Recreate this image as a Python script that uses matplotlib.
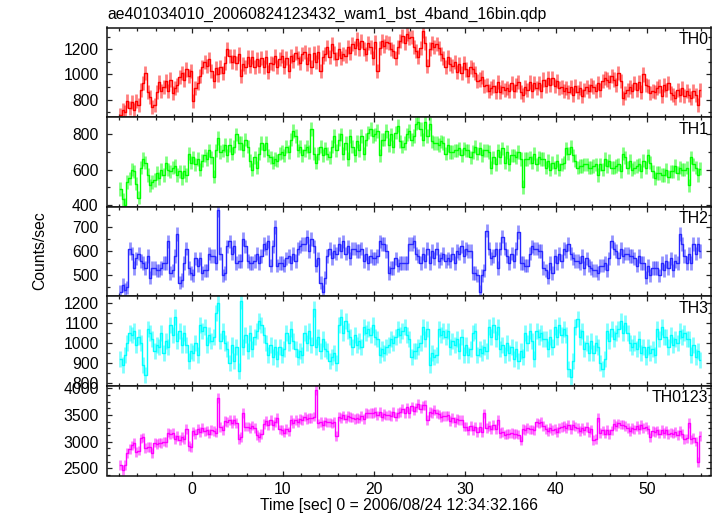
import numpy as np
import matplotlib
matplotlib.use("Agg")
import matplotlib.pyplot as plt
from matplotlib.ticker import MultipleLocator

plt.rcParams['font.family'] = ['Liberation Sans', 'DejaVu Sans']

TITLE = "ae401034010_20060824123432_wam1_bst_4band_16bin.qdp"
XLABEL = "Time [sec] 0 = 2006/08/24 12:34:32.166"
YLABEL = "Counts/sec"

# light curve bins (sec from T0)
T_START = -7.875
BIN = 0.25

th0 = [
    680, 720, 700, 790, 730, 780, 720, 790, 760, 880, 930, 1010, 860, 820,
    740, 760, 860, 940, 870, 900, 950, 870, 960, 850, 890, 920, 980, 1010, 960, 1040,
    990, 1030, 790, 890, 930, 990, 1060, 1100, 1070, 1120, 1030, 950, 1050, 1000, 1060, 1010,
    1090, 1200, 1150, 1100, 1150, 1090, 1160, 990, 1080, 1060, 1140, 1070, 1140, 1060, 1120, 1070,
    1130, 1060, 1140, 1020, 1090, 1080, 1150, 1060, 1120, 1150, 1060, 1130, 1030, 1150, 1110, 1170,
    1130, 1090, 1160, 1180, 1080, 1160, 1060, 1170, 1100, 1180, 1030, 1140, 1160, 1220, 1140, 1240,
    1170, 1120, 1200, 1130, 1160, 1150, 1220, 1170, 1240, 1210, 1280, 1200, 1270, 1200, 1160, 1250,
    1220, 1130, 1260, 1030, 1210, 1270, 1230, 1260, 1250, 1200, 1190, 1130, 1220, 1270, 1310, 1250,
    1320, 1290, 1300, 1220, 1190, 1140, 1210, 1350, 1250, 1070, 1200, 1250, 1220, 1240, 1210, 1160,
    1130, 1060, 1140, 1080, 1070, 1100, 1020, 1080, 1010, 1090, 1040, 990, 1060, 1040, 1010, 950,
    960, 980, 910, 920, 870, 890, 910, 860, 940, 860, 900, 880, 890, 870, 930, 870,
    920, 940, 860, 840, 900, 880, 940, 870, 930, 890, 930, 870, 960, 910, 970, 920,
    970, 910, 950, 890, 900, 870, 890, 860, 900, 840, 910, 860, 890, 830, 880, 900,
    870, 920, 900, 870, 930, 880, 950, 970, 960, 940, 990, 960, 920, 1010, 950, 810,
    850, 880, 900, 870, 930, 880, 940, 860, 1000, 920, 910, 850, 870, 860, 890, 910,
    830, 920, 880, 930, 850, 840, 810, 880, 840, 890, 830, 870, 840, 810, 870, 840,
    760, 880,
]

th1 = [
    490, 430, 400, 530, 550, 600, 590, 520, 440, 610, 660, 640, 570, 510,
    530, 540, 580, 550, 600, 570, 640, 600, 590, 610, 620, 570, 590, 550, 590, 570,
    690, 640, 670, 630, 660, 600, 650, 680, 660, 710, 670, 560, 710, 780, 700, 710,
    740, 680, 740, 690, 730, 800, 750, 750, 710, 770, 730, 650, 600, 670, 610, 690,
    750, 710, 750, 680, 670, 640, 660, 650, 690, 700, 680, 730, 700, 770, 820, 790,
    710, 730, 680, 710, 730, 700, 830, 690, 640, 690, 730, 680, 720, 690, 670, 730,
    790, 710, 770, 800, 690, 750, 660, 790, 730, 680, 760, 710, 790, 690, 770, 810,
    830, 790, 800, 820, 680, 770, 770, 820, 740, 800, 730, 810, 850, 760, 730, 750,
    800, 820, 770, 790, 860, 870, 830, 770, 870, 790, 860, 760, 750, 750, 740, 760,
    750, 690, 740, 700, 700, 710, 710, 720, 680, 720, 710, 710, 670, 700, 730, 690,
    720, 680, 710, 710, 700, 610, 670, 630, 710, 670, 720, 640, 700, 630, 680, 680,
    670, 700, 660, 500, 660, 660, 670, 640, 690, 630, 670, 660, 660, 610, 650, 600,
    640, 610, 650, 600, 630, 640, 720, 690, 730, 680, 650, 610, 620, 620, 630, 630,
    610, 610, 620, 630, 570, 630, 600, 660, 620, 650, 610, 610, 620, 630, 590, 690,
    670, 610, 650, 600, 610, 620, 630, 590, 650, 610, 680, 640, 590, 550, 580, 580,
    570, 570, 600, 560, 590, 590, 620, 580, 610, 600, 600, 610, 510, 670, 630, 610,
    570, 605,
]

th2 = [
    430, 460, 440, 450, 610, 590, 530, 570, 590, 560, 550, 530, 580, 490,
    530, 530, 520, 520, 530, 550, 550, 640, 510, 520, 580, 670, 470, 480, 550, 610,
    530, 510, 500, 570, 540, 570, 510, 520, 520, 590, 580, 580, 550, 770, 590, 500,
    510, 620, 640, 590, 620, 550, 560, 560, 650, 620, 560, 550, 550, 560, 590, 550,
    580, 630, 610, 640, 540, 620, 700, 540, 550, 550, 540, 570, 580, 550, 590, 560,
    610, 620, 630, 630, 660, 600, 650, 620, 540, 570, 470, 430, 490, 580, 610, 570,
    600, 590, 630, 600, 640, 590, 620, 570, 610, 610, 600, 600, 610, 560, 590, 550,
    580, 570, 570, 580, 640, 630, 630, 600, 510, 530, 530, 570, 540, 550, 550, 550,
    550, 630, 630, 640, 590, 580, 550, 590, 560, 610, 550, 600, 570, 610, 560, 570,
    590, 560, 570, 560, 590, 550, 600, 590, 620, 580, 610, 600, 600, 510, 510, 500,
    430, 500, 520, 685, 610, 570, 580, 610, 530, 610, 660, 610, 580, 550, 590, 560,
    610, 680, 550, 550, 540, 540, 590, 620, 610, 610, 600, 600, 530, 520, 490, 550,
    510, 580, 550, 590, 560, 610, 600, 630, 590, 570, 560, 560, 550, 580, 530, 570,
    540, 530, 520, 520, 510, 540, 540, 550, 520, 570, 640, 610, 600, 570, 610, 580,
    590, 590, 580, 580, 570, 540, 580, 550, 550, 490, 540, 500, 530, 530, 530, 500,
    550, 520, 560, 530, 570, 520, 560, 550, 670, 630, 580, 550, 590, 550, 630, 590,
    630, 600,
]

th3 = [
    920, 890, 940, 1000, 1050, 1040, 1060, 990, 1030, 1000, 890, 840, 1070, 1050,
    1020, 960, 990, 980, 1050, 950, 1010, 980, 1090, 1040, 1130, 1010, 1060, 990, 1050, 990,
    910, 960, 950, 1000, 940, 1090, 1060, 1080, 990, 1040, 1010, 1030, 1150, 1200, 1010, 1060,
    1000, 970, 900, 990, 910, 980, 860, 1210, 980, 1040, 960, 1050, 970, 1030, 1060, 1110,
    1090, 1040, 1000, 940, 990, 930, 980, 920, 980, 940, 970, 1050, 1000, 1070, 1010, 970,
    930, 960, 940, 1050, 1000, 1060, 990, 1170, 980, 1030, 960, 1020, 970, 960, 910, 930,
    950, 900, 1090, 1130, 1050, 1110, 1060, 1030, 980, 1040, 990, 1010, 980, 1080, 1050, 1070,
    1040, 1090, 1030, 1020, 940, 970, 950, 980, 990, 1020, 1000, 1030, 1070, 1040, 1060, 1080,
    1040, 1020, 930, 960, 960, 980, 1000, 1080, 1020, 1070, 890, 950, 930, 940, 1070, 1040,
    1060, 1030, 1060, 980, 1010, 990, 1020, 960, 1030, 940, 990, 940, 970, 1050, 1060, 940,
    970, 950, 980, 960, 1080, 1030, 1090, 1020, 1080, 970, 990, 940, 1000, 950, 980, 920,
    970, 910, 960, 930, 1050, 1000, 1060, 1010, 920, 1060, 1030, 1050, 1020, 1020, 970, 1030,
    980, 1080, 1030, 1090, 1040, 1070, 1040, 870, 830, 910, 1080, 1120, 1030, 1060, 970, 1000,
    950, 1010, 950, 1000, 980, 900, 870, 920, 1060, 1010, 1070, 1020, 1050, 1070, 1110, 1050,
    1100, 1050, 1000, 980, 1000, 970, 1020, 950, 980, 930, 980, 950, 970, 940, 1070, 1020,
    1080, 1030, 1030, 980, 1040, 990, 1020, 1000, 1060, 1030, 1050, 1020, 1020, 940, 990, 930,
    960, 915,
]

th0123 = [
    2560, 2470, 2560, 2790, 2860, 2930, 2970, 2810, 2830, 3060, 3080, 2880, 2900, 2900,
    2790, 2980, 2960, 2980, 2970, 3000, 2990, 3170, 3140, 3160, 3040, 3100, 3030, 3090, 3040, 3240,
    2920, 2890, 3190, 3140, 3240, 3180, 3250, 3190, 3210, 3150, 3220, 3200, 3170, 3820, 3270, 3220,
    3390, 3370, 3410, 3340, 3410, 3350, 3050, 3090, 3540, 3280, 3280, 3260, 3300, 3250, 3120, 3090,
    3140, 3330, 3390, 3310, 3400, 3310, 3370, 3440, 3230, 3220, 3170, 3240, 3190, 3400, 3350, 3410,
    3360, 3420, 3410, 3470, 3420, 3440, 3440, 3470, 3970, 3340, 3370, 3310, 3380, 3360, 3360, 3340,
    3370, 3100, 3470, 3440, 3490, 3430, 3480, 3460, 3450, 3420, 3440, 3430, 3480, 3420, 3540, 3530,
    3540, 3540, 3560, 3490, 3550, 3470, 3520, 3490, 3500, 3480, 3550, 3470, 3540, 3560, 3620, 3540,
    3640, 3540, 3660, 3580, 3640, 3700, 3620, 3680, 3690, 3410, 3560, 3540, 3590, 3530, 3510, 3460,
    3480, 3480, 3490, 3390, 3440, 3370, 3420, 3400, 3400, 3280, 3280, 3210, 3290, 3220, 3280, 3180,
    3270, 3180, 3530, 3260, 3290, 3230, 3310, 3240, 3410, 3160, 3180, 3130, 3140, 3150, 3160, 3140,
    3150, 3130, 3020, 3240, 3220, 3250, 3230, 3230, 3210, 3360, 3340, 3370, 3290, 3240, 3190, 3250,
    3220, 3240, 3180, 3250, 3270, 3290, 3260, 3310, 3240, 3310, 3280, 3260, 3200, 3260, 3210, 3270,
    3180, 3230, 3030, 3050, 3450, 3160, 3210, 3150, 3220, 3140, 3210, 3330, 3290, 3340, 3320, 3320,
    3290, 3260, 3200, 3250, 3230, 3290, 3240, 3310, 3260, 3280, 3230, 3080, 3200, 3180, 3210, 3150,
    3220, 3160, 3210, 3140, 3170, 3150, 3180, 3120, 3200, 3150, 3050, 3060, 3350, 3040, 3070, 3000,
    2620, 3100,
]

# 1-sigma errors per band
th0_err = 56
th1_err = 38
th2_err = 28
th3_err = 40
th0123_err = 90

panels = [
    # label, data, err, colour, ylim, major, minor
    ("TH0", th0, th0_err, "#ff0000", (661, 1374), 200, 100),
    ("TH1", th1, th1_err, "#00ff00", (389, 898), 200, 100),
    ("TH2", th2, th2_err, "#2828ff", (413, 784), 100, 50),
    ("TH3", th3, th3_err, "#00ffff", (787, 1231), 100, 50),
    ("TH0123", th0123, th0123_err, "#ff00ff", (2365, 4044), 500, 125),
]

W, H = 717, 516
fig, axes = plt.subplots(5, 1, figsize=(W / 100, H / 100), dpi=100, sharex=True)
fig.subplots_adjust(left=107 / W, right=711 / W, top=1 - 27.5 / H,
                    bottom=1 - 475.5 / H, hspace=0)

for ax, (label, vals, err, col, ylim, major, minor) in zip(axes, panels):
    y = np.array(vals, dtype=float)
    t = T_START + BIN * np.arange(len(y))
    ax.errorbar(t, y, yerr=err, fmt="none", ecolor=col, elinewidth=2.0,
                alpha=0.5, zorder=2)
    ax.step(t, y, where="mid", color=col, lw=1.0, zorder=3)

    ax.set_ylim(*ylim)
    ax.set_xlim(-9.35, 57.05)
    ax.yaxis.set_major_locator(MultipleLocator(major))
    ax.yaxis.set_minor_locator(MultipleLocator(minor))
    ax.xaxis.set_major_locator(MultipleLocator(10))
    ax.xaxis.set_minor_locator(MultipleLocator(2))
    ax.tick_params(which="both", direction="in", top=True, right=True,
                   labelsize=11.3, width=0.9, color="#222222")
    ax.tick_params(which="major", length=3.4)
    ax.tick_params(which="minor", length=1.9)
    ax.tick_params(axis="y", pad=6)
    ax.tick_params(axis="x", pad=5)
    for s in ax.spines.values():
        s.set_linewidth(1.1)
        s.set_color("#111111")

    ax.text(0.996, 0.95, label, transform=ax.transAxes, ha="right", va="top",
            fontsize=11.4)

fig.text(107 / W, 1 - 19 / H, TITLE, ha="left", va="baseline", fontsize=11.3)
fig.text(398.5 / W, 1 - 510 / H, XLABEL, ha="center", va="baseline", fontsize=11.3)
fig.text(40 / W, 1 - 251 / H, YLABEL, rotation=90, ha="center", va="center",
         fontsize=11.3)

fig.savefig("out.png", dpi=100)
